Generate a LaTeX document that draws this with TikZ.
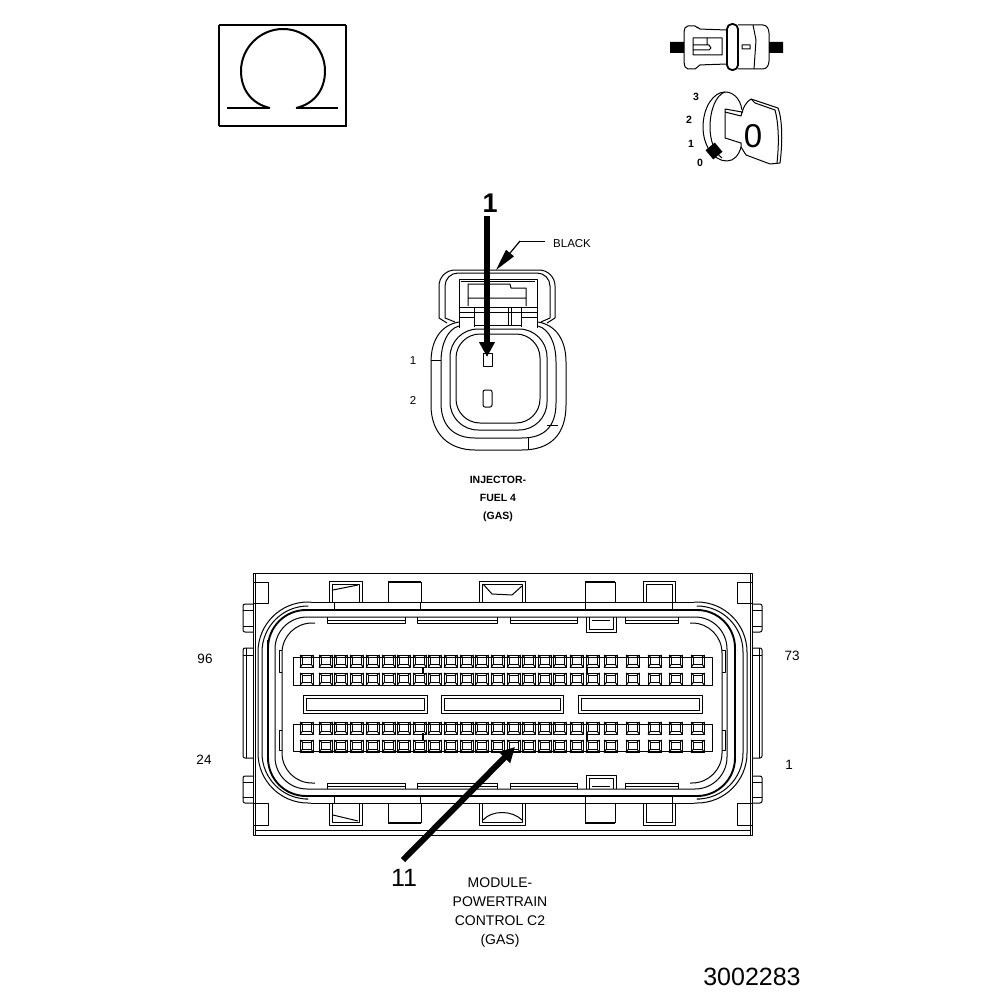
\documentclass[tikz,border=0pt]{standalone}
\usepackage{fontspec}
\setmainfont{Liberation Sans}
\usetikzlibrary{arrows.meta}
\tikzset{
  thin line/.style={line width=1pt,join=round},
  heavy line/.style={line width=1.9pt,join=round},
  callout/.style={line width=5.7pt,-{Triangle[width=15pt,length=15pt]}},
  tiny label/.style={font=\fontsize{11.5}{13}\selectfont,inner sep=0pt},
  pin label/.style={font=\fontsize{13.5}{15}\selectfont,inner sep=0pt},
  big label/.style={font=\fontsize{26}{28}\selectfont,inner sep=0pt},
  key label/.style={font=\fontsize{10.5}{12}\selectfont\bfseries,inner sep=0pt},
  caption label/.style={align=center,inner sep=0pt},
}
\newcommand{\pincell}[2]{%
\draw[thin line] (#1,#2) rectangle ++(13.5,12.5);%
\draw[thin line] (#1+2.5,#2+2) rectangle ++(8.5,7);%
\draw[thin line] (#1,#2) -- ++(2.5,2) (#1+13.5,#2) -- ++(-2.5,2) (#1,#2+12.5) -- ++(2.5,-3.5) (#1+13.5,#2+12.5) -- ++(-2.5,-3.5);%
}
\newcommand{\slotbox}[2]{%
\draw[thin line] (#1,695) rectangle (#2,713);%
\draw[thin line] (#1+3,698) rectangle (#2-3,710);%
}
\begin{document}
\begin{tikzpicture}[x=1pt,y=-1pt]%
\useasboundingbox (0,0) rectangle (1008,1000);%
% omega box
\draw[line width=1.4pt] (219,126) -- (219,25);%
\draw[line width=2.2pt] (219,25) -- (346,25);%
\draw[line width=1.4pt] (346,25) -- (346,126) -- (219,126);%
\draw[line width=2pt] (270,108) .. controls (252,104) and (241,90) .. (241,71) .. controls (241,48) and (260,29) .. (283,29) .. controls (306,29) and (325,48) .. (325,71) .. controls (325,90) and (314,104) .. (296,108);%
\draw[line width=1.3pt] (227,108) -- (270,108) (296,108) -- (338,108);%
% inline connector
\fill (670,42) rectangle (684,53) (769,42) rectangle (783,53);%
\draw[thin line,rounded corners=2pt] (727,30) -- (698,29) -- (697,26) -- (686,26) -- (684,30) -- (684,64) -- (686,69) -- (697,69) -- (698,65) -- (727,64);%
\draw[thin line] (693,38) -- (693,55) -- (722,55) -- (722,38) -- cycle (707,38) -- (707,45) (693,45) -- (709,45) -- (711,48) -- (709,50) -- (693,50);%
\draw[line width=1.8pt,rounded corners=5pt] (727,24) rectangle (738,70);%
\draw[thin line,rounded corners=3pt] (738,25) -- (766,25) -- (769,30) -- (769,64) -- (766,69) -- (738,69);%
\draw[thin line] (753,25) -- (756,40) -- (754,69) (742,45) rectangle (750,49);%
% ignition key
\draw[thin line] (742,110) .. controls (740,97) and (732,92) .. (725,92) .. controls (713,92) and (703,108) .. (703,127) .. controls (703,145) and (713,161) .. (727,161) .. controls (734,161) and (739,155) .. (741,147);%
\draw[thin line] (725,92) .. controls (716,95) and (710,110) .. (710,127) .. controls (710,140) and (714,152) .. (722,158);%
\draw[thin line] (725,109) -- (742,112) -- (741,116) -- (725,112) -- cycle (725,112) -- (725,138) -- (741,143) -- (741,147);%
\draw[thin line] (742,113) .. controls (743,108) and (746,102) .. (751,99) -- (778,108) .. controls (782,118) and (783,140) .. (780,163) -- (770,164) -- (746,155) -- (741,147);%
\draw[thin line] (751,99) -- (755,103) -- (775,110) .. controls (779,125) and (779,145) .. (777,163);%
\fill[rotate around={40:(714,151)}] (708,145) rectangle (720,157);%
\node[big label,font=\fontsize{33}{35}\selectfont] (keyzero) at (753,136) {0};%
\node[key label] (keypos3) at (696,97) {3};%
\node[key label] (keypos2) at (689,120) {2};%
\node[key label] (keypos1) at (691,144) {1};%
\node[key label] (keypos0) at (700,163) {0};%
% injector connector
\draw[thin line,rounded corners=16pt] (439,318) -- (439,270) -- (555,270) -- (555,318);%
\draw[thin line,rounded corners=13pt] (445,318) -- (445,273) -- (550,273) -- (550,318);%
\draw[thin line] (439,318) -- (447,323) (555,318) -- (547,323) (445,318) -- (455,322) (550,318) -- (541,322);%
\draw[thin line] (459,322) .. controls (441,325) and (431,340) .. (431,362) -- (431,405) .. controls (431,435) and (450,450) .. (475,450) -- (522,450) .. controls (550,450) and (566,435) .. (566,405) -- (566,362) .. controls (566,340) and (556,325) .. (538,322);%
\draw[thin line] (459,326) .. controls (448,329) and (441,343) .. (441,362) -- (441,403) .. controls (441,427) and (455,438) .. (475,438) -- (522,438) .. controls (544,438) and (556,427) .. (556,403) -- (556,362) .. controls (556,343) and (549,329) .. (538,326);%
\draw[thin line,rounded corners=28pt] (450,329) rectangle (547,430);%
\draw[thin line,rounded corners=24pt] (456,334) rectangle (540,423);%
\draw[thin line] (459,279) rectangle (537,307) (461,281) -- (535,281);%
\draw[thin line] (468,306) -- (468,284) -- (510,284) -- (511,288) -- (526,288) -- (526,306) (468,298) -- (526,298);%
\draw[thin line] (459,307) -- (459,328) (474,307) -- (474,327) (459,312) -- (474,312) (459,317) -- (474,317);%
\draw[thin line] (537,307) -- (537,328) (521,307) -- (521,327) (521,312) -- (537,312) (521,317) -- (537,317);%
\draw[thin line] (474,312) -- (521,312) (474,325) -- (521,325) (508,307) -- (508,325) (511,307) -- (511,325);%
\draw[thin line] (483,353) rectangle (492,366);%
\draw[thin line,rounded corners=2pt] (483,390) -- (492,390) -- (492,407) -- (483,407) -- cycle;%
\draw[thin line] (547,425) -- (558,425) (528,438) -- (528,450) (431,360) -- (441,360);%
\node[tiny label] (pinone) at (413,361) {1};%
\node[tiny label] (pintwo) at (413,400) {2};%
\node[tiny label,anchor=west] (blacklabel) at (553,244) {BLACK};%
\coordinate (blackelbow) at (520,241);%
\coordinate (blacktip) at (496,270);%
\draw[thin line] (545,241) -- (blackelbow);%
\draw[line width=1.2pt,-{Triangle[width=10pt,length=22pt]}] (blackelbow) -- (blacktip);%
\node[big label,font=\fontsize{27}{29}\selectfont\bfseries] (injectorcallout) at (490,203) {1};%
\coordinate (injectorpin) at (487,357);%
\draw[callout] (487,216) -- (injectorpin);%
\node[caption label,font=\fontsize{10.5}{18.3}\selectfont\bfseries] (injectorname) at (498,499) {INJECTOR-\\FUEL 4\\(GAS)};%
% module housing
\draw[thin line] (253,573) -- (752,573) -- (752,835) -- (253,835) -- cycle;%
\draw[thin line] (255,830) -- (750,830) (255,573) -- (255,835) (750,573) -- (750,835);%
\foreach \xa/\xb in {253/268,737/752}{%
\draw[thin line] (\xa,582) rectangle (\xb,603) (\xa,803) rectangle (\xb,825);%
}%
% side clips
\foreach \xa/\xb/\xc in {243/253/246,762/752/759}{%
\draw[thin line,rounded corners=2pt] (\xb,604) -- (\xa,604) -- (\xa,632) -- (\xb,632);%
\draw[thin line,rounded corners=2pt] (\xb,648) -- (\xa,648) -- (\xa,758) -- (\xb,758);%
\draw[thin line,rounded corners=2pt] (\xb,776) -- (\xa,776) -- (\xa,803) -- (\xb,803);%
\draw[thin line] (\xa,610) -- (\xb,610) (\xa,626) -- (\xb,626) (\xa,655) -- (\xb,655) (\xa,782) -- (\xb,782) (\xa,797) -- (\xb,797);%
\draw[thin line] (\xc,648) -- (\xc,758);%
}%
% seal rings
\draw[thin line,rounded corners=50pt] (311,602) -- (258,602) -- (258,803) -- (311,803);%
\draw[thin line,rounded corners=50pt] (694,602) -- (747,602) -- (747,803) -- (694,803);%
\draw[thin line,rounded corners=46pt] (305,606) -- (262,606) -- (262,799) -- (305,799);%
\draw[thin line,rounded corners=46pt] (700,606) -- (743,606) -- (743,799) -- (700,799);%
\draw[thin line] (311,602) -- (694,602) (311,803) -- (694,803);%
\draw[heavy line,rounded corners=38pt] (268,640) -- (268,610) -- (735,610) -- (735,796) -- (268,796) -- (268,640);%
\draw[thin line,rounded corners=32pt] (275,650) -- (275,617) -- (727,617) -- (727,789) -- (275,789) -- (275,650);%
\draw[thin line,rounded corners=30pt] (315,623) -- (282,623) -- (282,783) -- (315,783);%
\draw[thin line,rounded corners=30pt] (690,623) -- (722,623) -- (722,783) -- (690,783);%
% stepped walls
\foreach \xa/\xb in {282/279,722/725}{%
\draw[thin line] (\xa,650) -- (\xb,650) -- (\xb,672) -- (\xa,672) (\xa,730) -- (\xb,730) -- (\xb,750) -- (\xa,750);%
}%
% housing pockets
\foreach \xa/\xb in {329/362,643/675,479/525}{%
\draw[thin line] (\xa,602) -- (\xa,581) -- (\xb,581) -- (\xb,602) (\xa+3,602) -- (\xa+3,584) -- (\xb-3,584) -- (\xb-3,602);%
\draw[thin line] (\xa,803) -- (\xa,825) -- (\xb,825) -- (\xb,803) (\xa+3,803) -- (\xa+3,822) -- (\xb-3,822) -- (\xb-3,803);%
}%
\foreach \xa/\xb in {388/421,585/615}{%
\draw[thin line] (\xa,602) -- (\xa,582) (\xb,582) -- (\xb,602) (\xa,803) -- (\xa,823) (\xb,823) -- (\xb,803);%
\draw[heavy line,line width=1.4pt] (\xa,582) -- (\xb,582) (\xa,823) -- (\xb,823);%
}%
\draw[thin line] (334,602) -- (334,610) (420,602) -- (420,610) (585,602) -- (585,610) (672,602) -- (672,610);%
\draw[thin line] (334,796) -- (334,803) (420,796) -- (420,803) (585,796) -- (585,803) (672,796) -- (672,803);%
\draw[thin line] (333,590) -- (358,585) (483,584) -- (492,594) -- (512,595) -- (522,586);%
\draw[thin line] (333,815) -- (358,821) (483,820) .. controls (492,810) and (512,810) .. (522,820);%
% retainer strips
\foreach \xa/\xb in {327/405,417/497,510/577,625/678}{%
\draw[thin line] (\xa,617) -- (\xa,623) -- (\xb,623) -- (\xb,617) (\xa,620) -- (\xb,620);%
\draw[thin line] (\xa,789) -- (\xa,783) -- (\xb,783) -- (\xb,789) (\xa,786) -- (\xb,786);%
}%
\draw[thin line] (586,617) -- (586,632) -- (616,632) -- (616,617) (589,617) -- (589,629) -- (613,629) -- (613,617) (592,620) -- (610,620);%
\draw[thin line] (586,789) -- (586,775) -- (616,775) -- (616,789) (589,789) -- (589,778) -- (613,778) -- (613,789) (592,786) -- (610,786);%
% slots
\slotbox{303}{427}%
\slotbox{441}{563}%
\slotbox{578}{702}%
% pin blocks
\draw[thin line] (293,657) rectangle (712,685) (293,724) rectangle (712,751);%
\draw[heavy line,line width=1.3pt] (423,667) -- (423,673) (423,733) -- (423,741) (587,667) -- (587,673) (587,733) -- (587,741);%
\foreach \cx in {300,319,334,350,366,382,397,413,428,444,460,475,491,507,522,538,553,570,586,604,626,648,669,691}{%
\foreach \cy in {655,673,722,740}{%
\pincell{\cx}{\cy}%
}}%
% module labels
\node[pin label] (pinninetysix) at (205,659) {96};%
\node[pin label] (pinseventythree) at (792,656) {73};%
\node[pin label] (pintwentyfour) at (204,760) {24};%
\node[pin label] (pinfirst) at (789,765) {1};%
\node[big label,font=\fontsize{25}{27}\selectfont] (modulecallout) at (404,878) {11};%
\coordinate (moduletail) at (403,860);%
\coordinate (modulepin) at (515,747);%
\draw[callout,line width=6pt] (moduletail) -- (modulepin);%
\node[caption label,font=\fontsize{14}{19}\selectfont] (modulename) at (500,912.5) {MODULE-\\POWERTRAIN\\CONTROL C2\\(GAS)};%
\node[big label,font=\fontsize{25}{27}\selectfont] (figurenumber) at (752,977) {3002283};%
\end{tikzpicture}%
\end{document}
